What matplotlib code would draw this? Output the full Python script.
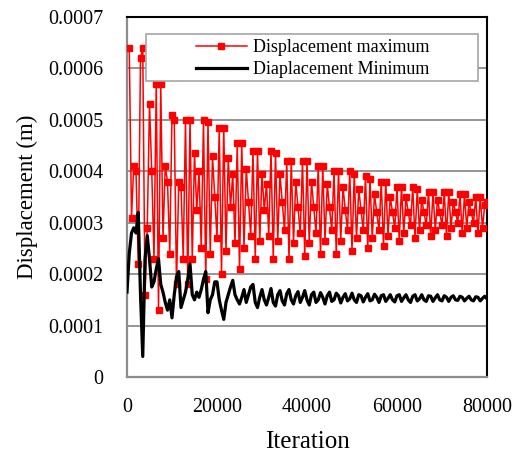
import matplotlib
matplotlib.use('Agg')
import matplotlib.pyplot as plt
import numpy as np
from matplotlib.patches import Rectangle

# ---------------- data (displacement values in units of 1e-4 m) ----------------
iter_step = 500

# Displacement maximum, sampled every 500 iterations starting at 500
disp_max_e4 = [
    6.4, 3.1, 4.1, 4.0, 2.2, 6.2, 6.4, 1.6, 2.9, 5.3, 4.0, 2.3, 5.7, 1.3, 5.7, 2.7,
    4.1, 3.8, 2.4, 5.1, 5.0, 1.8, 3.8, 3.7, 2.3, 5.0,
    1.8, 5.0, 2.3, 4.35, 3.25, 4.0, 2.5, 5.0,
    1.9, 4.95, 2.4, 4.3, 3.5, 2.7, 4.85,
    2.0, 4.85, 2.45, 4.25, 3.3, 3.95, 2.6, 4.55,
    2.1, 4.55, 2.5, 4.05, 3.4, 2.75, 4.4,
    2.3, 4.4, 2.65, 3.95, 3.25, 3.75, 2.75, 4.4,
    2.3, 4.35, 2.65, 3.95, 3.4, 2.85, 4.2,
    2.3, 4.2, 2.6, 3.8, 3.3, 2.8, 4.2,
    2.35, 4.2, 2.6, 3.8, 3.3, 2.8, 4.1,
    2.4, 4.1, 2.65, 3.75, 3.3, 2.85, 4.0,
    2.4, 4.0, 2.65, 3.7, 3.25, 2.85, 4.0,
    2.45, 3.95, 2.7, 3.65, 3.25, 2.85, 3.9,
    2.5, 3.85, 2.7, 3.55, 3.2, 2.85, 3.8,
    2.55, 3.8, 2.75, 3.5, 3.2, 2.9, 3.7,
    2.65, 3.7, 2.8, 3.5, 3.2, 2.95, 3.7,
    2.7, 3.65, 2.85, 3.45, 3.2, 2.95, 3.6,
    2.75, 3.6, 2.85, 3.45, 3.2, 2.95, 3.6,
    2.75, 3.6, 2.9, 3.4, 3.2, 3.0, 3.55,
    2.8, 3.55, 2.9, 3.4, 3.2, 3.0, 3.5,
    2.8, 3.5, 2.9, 3.35, 3.4,
]

# Displacement minimum, sampled every 500 iterations starting at 0
disp_min_e4 = [
    1.65, 2.4, 2.8, 2.9, 2.8, 3.2, 1.6, 0.4, 2.3, 2.75,
    2.3, 1.75, 1.85, 2.1, 2.3, 1.8, 1.65, 1.45, 1.3, 1.5,
    1.15, 1.6, 1.95, 2.05, 1.35, 1.5, 1.65, 1.9, 2.2, 1.6,
    1.5, 1.65, 1.55, 1.7, 1.9, 2.05, 1.25, 1.5, 1.6, 1.85,
    1.85, 1.5, 1.3, 1.12, 1.45, 1.6, 1.75, 1.88, 1.6, 1.5,
    1.42, 1.55, 1.7, 1.45, 1.6, 1.75, 1.8, 1.45, 1.35, 1.55,
    1.7, 1.5, 1.4, 1.55, 1.72, 1.45, 1.38, 1.6, 1.68, 1.48,
    1.4, 1.62, 1.7, 1.5, 1.42, 1.58, 1.66, 1.45, 1.55, 1.68,
    1.5, 1.4, 1.6, 1.65, 1.45, 1.5, 1.64, 1.55, 1.42, 1.58,
    1.65, 1.47, 1.5, 1.63, 1.58, 1.44, 1.55, 1.62, 1.48, 1.52,
    1.63, 1.5, 1.45, 1.6, 1.58, 1.46, 1.55, 1.62, 1.48, 1.5,
    1.61, 1.55, 1.45, 1.58, 1.6, 1.47, 1.53, 1.6, 1.5, 1.46,
    1.58, 1.6, 1.47, 1.54, 1.6, 1.5, 1.45, 1.57, 1.6, 1.48,
    1.52, 1.6, 1.5, 1.47, 1.58, 1.57, 1.47, 1.54, 1.6, 1.5,
    1.48, 1.58, 1.55, 1.47, 1.55, 1.58, 1.5, 1.49, 1.57, 1.55,
    1.48, 1.53, 1.57, 1.5, 1.48, 1.56, 1.55, 1.48, 1.53, 1.57,
    1.52,
]

series_labels = ['Displacement maximum', 'Diaplacement Minimum']
xtick_vals = [0, 20000, 40000, 60000, 80000]
xtick_labels = ['0', '20000', '40000', '60000', '80000']
ytick_vals = [0, 0.0001, 0.0002, 0.0003, 0.0004, 0.0005, 0.0006, 0.0007]
ytick_labels = ['0', '0.0001', '0.0002', '0.0003', '0.0004', '0.0005', '0.0006', '0.0007']

x_max = iter_step * (np.arange(len(disp_max_e4)) + 1)
y_max = np.array(disp_max_e4) * 1e-4
x_min = iter_step * np.arange(len(disp_min_e4))
y_min = np.array(disp_min_e4) * 1e-4

# ---------------- plot ----------------
plt.rcParams['font.family'] = ['Liberation Serif', 'DejaVu Serif']

W, H = 513, 459
fig = plt.figure(figsize=(W / 100, H / 100), dpi=100)
ax = fig.add_axes([127 / W, (H - 377) / H, 360 / W, 360 / H])

ax.plot(x_max, y_max, color='#ff0000', lw=1.1, marker='s', ms=5,
        mec='#ff0000', mfc='#ff0000', label=series_labels[0], zorder=3)
ax.plot(x_min, y_min, color='black', lw=2.3, label=series_labels[1], zorder=4)

ax.set_xlim(0, 80000)
ax.set_ylim(0, 0.0007)
ax.set_xticks(xtick_vals)
ax.set_xticklabels(xtick_labels)
ax.set_yticks(ytick_vals)
ax.set_yticklabels(ytick_labels)
ax.tick_params(axis='both', length=0, labelsize=14.4)
ax.tick_params(axis='x', pad=15)
ax.tick_params(axis='y', pad=17)

ax.yaxis.grid(True, color='#8c8c8c', lw=1.3)
ax.set_axisbelow(True)

for s in ['left', 'bottom']:
    ax.spines[s].set_color('#8c8c8c')
    ax.spines[s].set_linewidth(1.6)
for s in ['top', 'right']:
    ax.spines[s].set_color('black')
    ax.spines[s].set_linewidth(1.5)

ax.set_ylabel('Displacement (m)', fontsize=16.5, labelpad=7)
ax.set_xlabel('Iteration', fontsize=18, labelpad=10)

# legend with Excel-like wide box
box = Rectangle((146 / W, 1 - 81 / H), (478 - 146) / W, (81 - 34) / H,
                transform=fig.transFigure, facecolor='white', edgecolor='#a6a6a6',
                lw=1.2, zorder=5.5, clip_on=False)
ax.add_artist(box)
leg = ax.legend(loc='upper left', bbox_to_anchor=(196 / W, 1 - 39 / H),
                bbox_transform=fig.transFigure, frameon=False, borderpad=0,
                borderaxespad=0, handlelength=2.8, handletextpad=0.35,
                labelspacing=0.3, fontsize=13, numpoints=1, markerscale=0.8)
leg.set_zorder(6)

fig.savefig('out.png', dpi=100)
